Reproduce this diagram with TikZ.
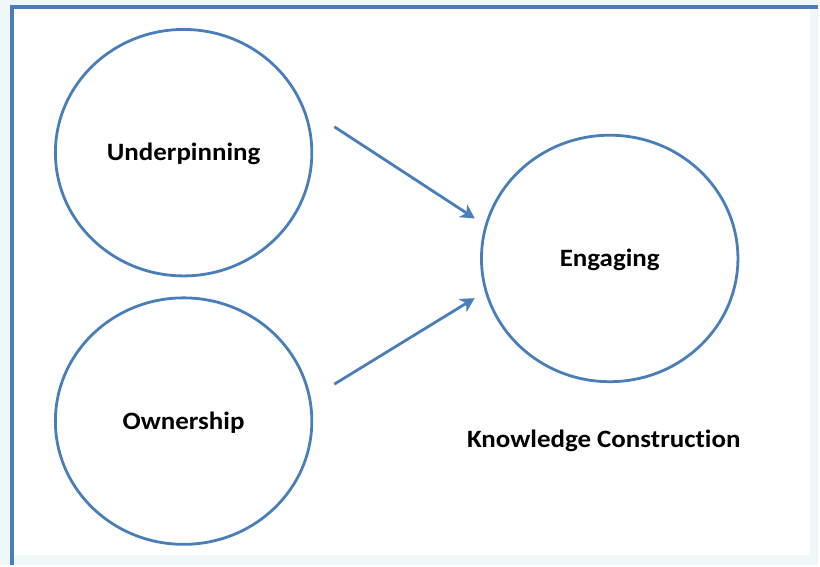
\documentclass[tikz,border=0pt]{standalone}
\usepackage{fontspec}
\setmainfont{Carlito}[Ligatures=NoCommon, FakeStretch=1.08]
\usetikzlibrary{arrows.meta,shapes.geometric}
\definecolor{ringblue}{HTML}{4A7EBB}
\definecolor{paleedge}{HTML}{EEF8F8}

\begin{document}
\begin{tikzpicture}[x=1pt,y=-1pt,
  label font/.style={font=\fontsize{25}{30}\selectfont\bfseries,
    text height=20pt, text depth=4pt},
  ring/.style={ellipse, draw=ringblue, line width=2.8pt, fill=white,
    minimum width=257pt, minimum height=247pt, inner sep=0pt, label font},
  flow/.style={-{Stealth[length=14pt,width=15pt,inset=4pt]}, draw=ringblue,
    line width=2.8pt, shorten >=12pt}]
  % frame
  \fill[paleedge] (0,0) rectangle (820,566);
  \fill[white] (13,8) rectangle (812,556);
  \draw[ringblue, line width=3.5pt] (12,566) -- (12,7) -- (820,7);
  % the three circles
  \node[ring] (under) at (184,153) {Underpinning};
  \node[ring] (owner) at (184,422) {Ownership};
  \node[ring] (engage) at (611,259) {Engaging};
  \node[label font, inner sep=0pt] (know) at (605,440) {Knowledge Construction};
  % arrows into Engaging
  \coordinate (under-tail) at (335,127);
  \coordinate (owner-tail) at (335,385);
  \draw[flow] (under-tail) -- (engage.165);
  \draw[flow] (owner-tail) -- (engage.195);
\end{tikzpicture}
\end{document}
